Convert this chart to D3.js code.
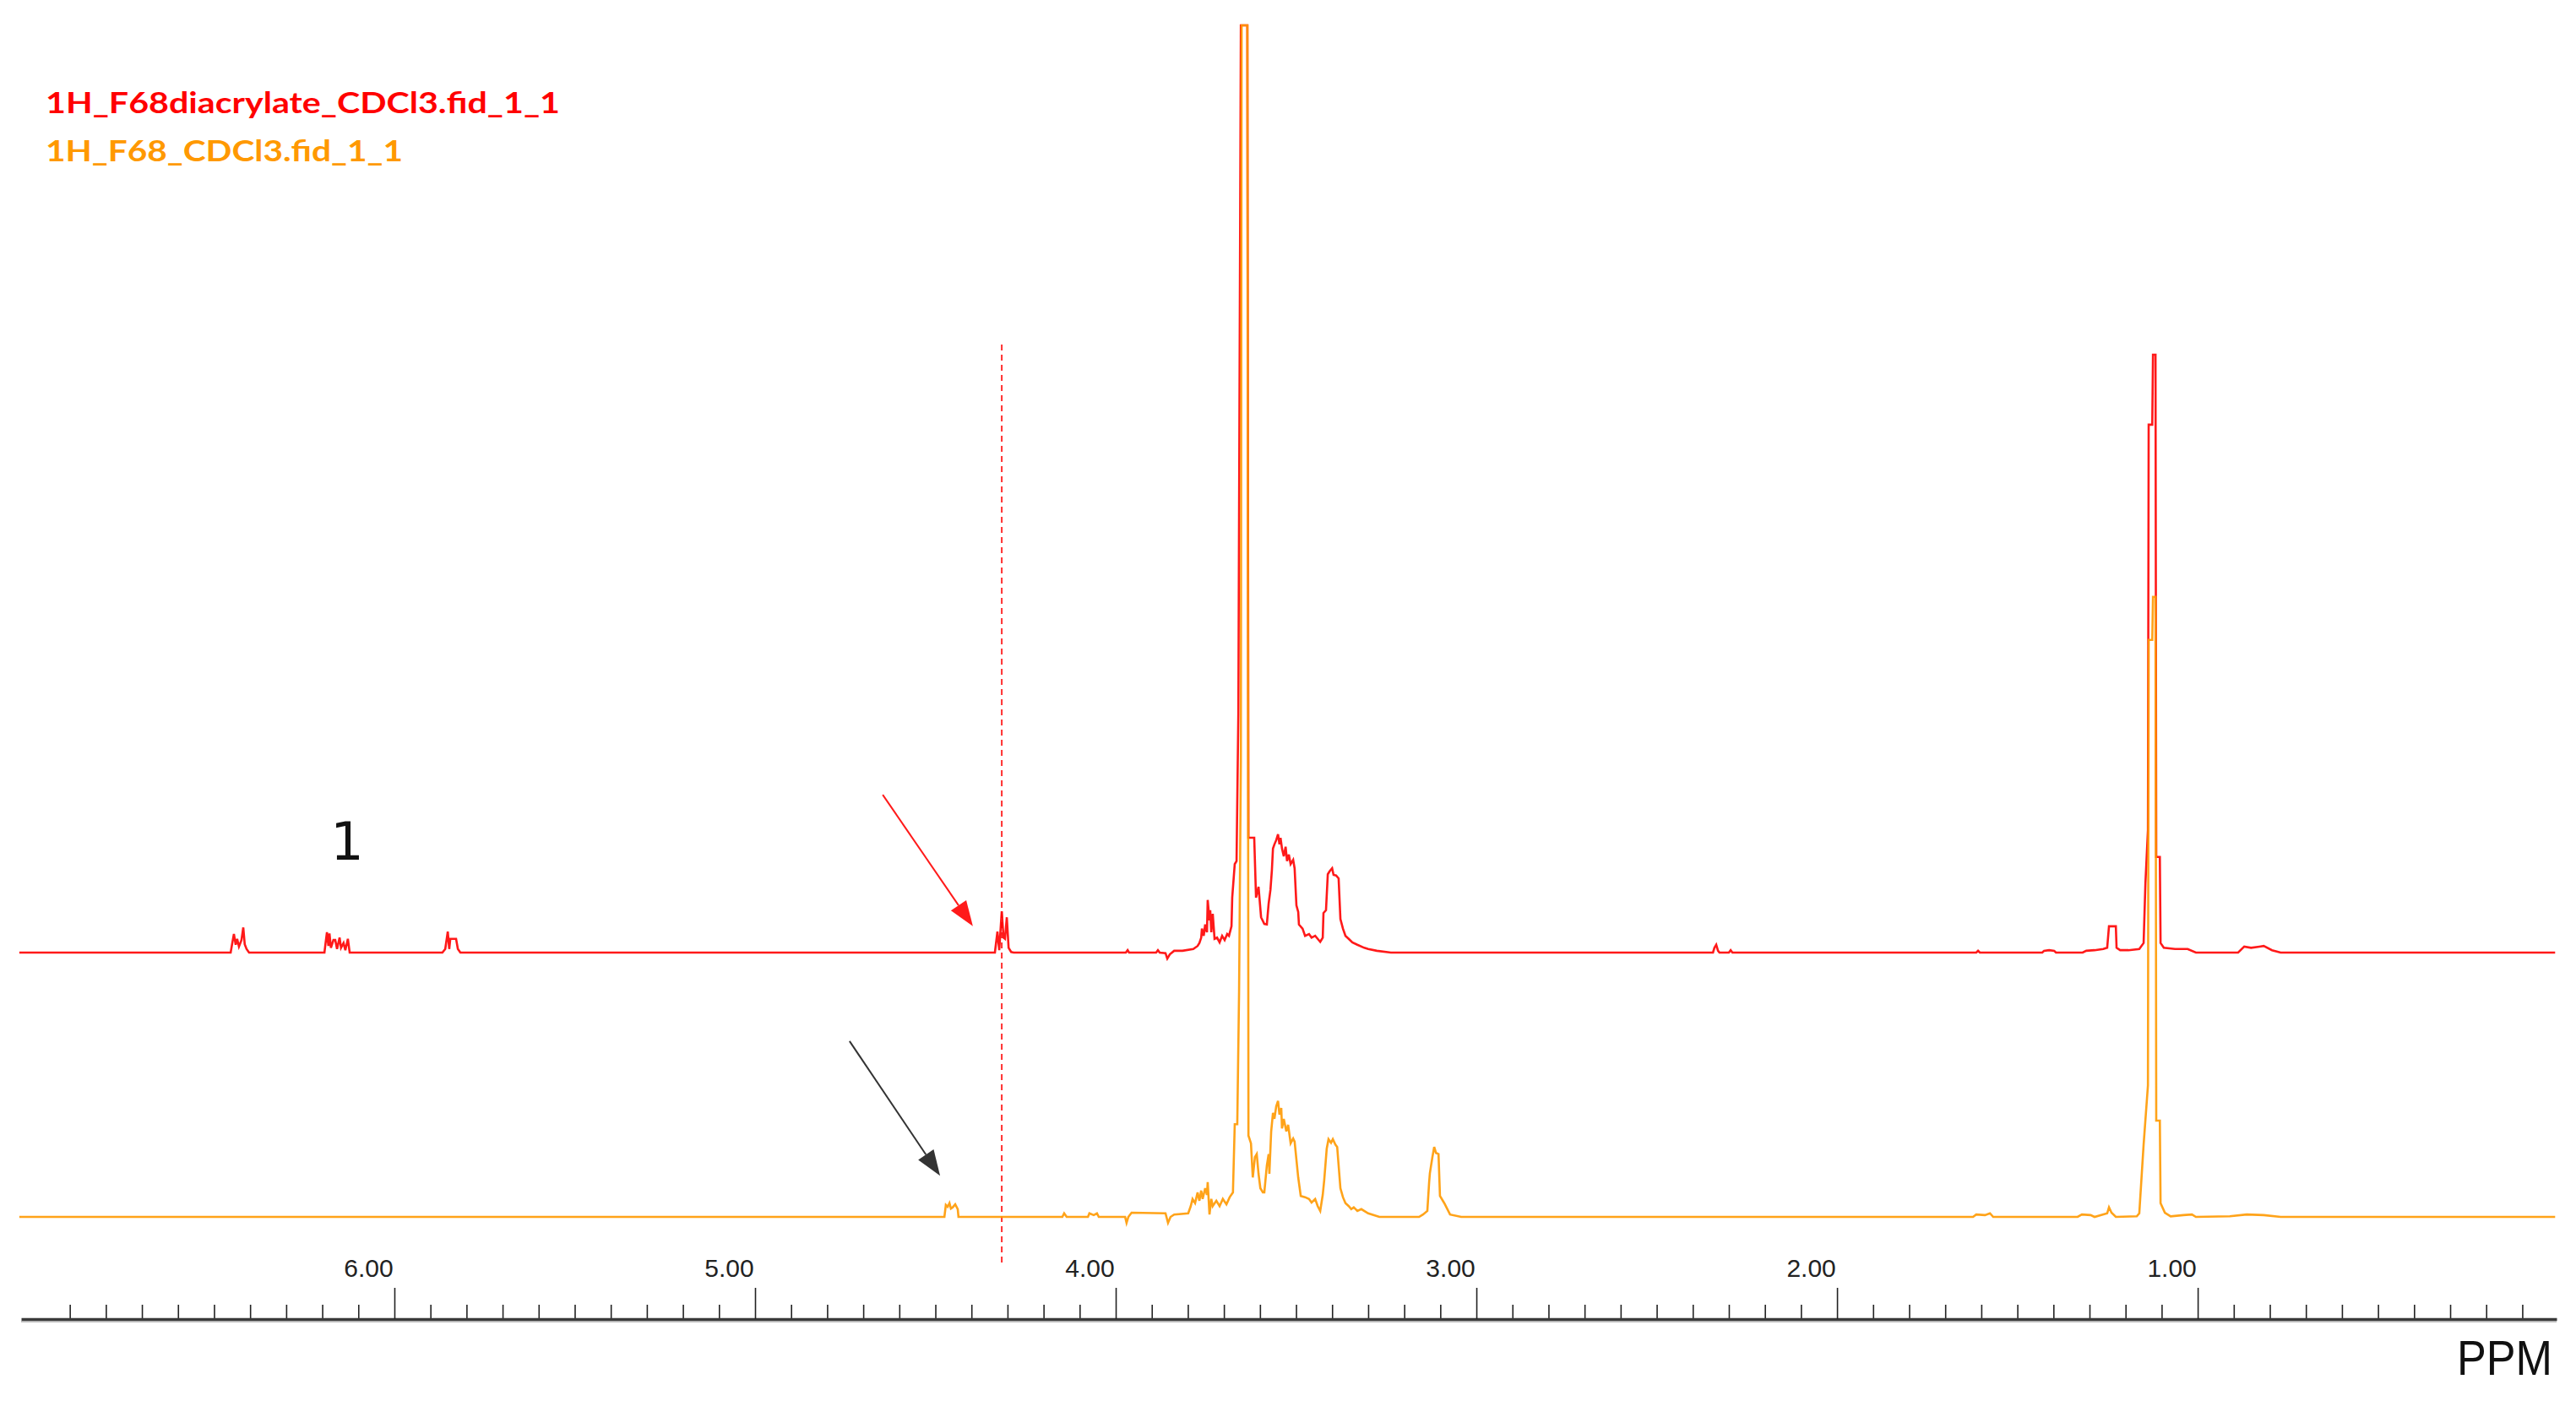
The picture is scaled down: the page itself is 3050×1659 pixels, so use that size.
<!DOCTYPE html>
<html><head><meta charset="utf-8">
<script src="https://cdn.jsdelivr.net/npm/d3@7"></script>
<style>body{margin:0;background:#fff}</style>
</head><body>
<svg id="c" width="3050" height="1659"></svg>
<script>
// ---------------- data ----------------
const seriesNames = ["1H_F68diacrylate_CDCl3.fid_1_1", "1H_F68_CDCl3.fid_1_1"];
const seriesColors = ["#ff0000", "#ff9900"];
const majorTicks = [6, 5, 4, 3, 2, 1];
const axisTitle = "PPM";

// F68 diacrylate spectrum (ppm, relative intensity; 100 = CH3 peak)
const redPpm = [7.040,6.461,6.454,6.450,6.445,6.440,6.436,6.431,6.424,6.419,6.415,6.410,6.403,
 6.194,6.190,6.187,6.183,6.180,6.176,6.169,6.164,6.159,6.152,6.148,6.141,6.136,6.129,6.124,
 5.867,5.859,5.852,5.848,5.845,5.829,5.824,5.817,
 4.335,4.328,4.323,4.316,4.311,4.307,4.302,4.297,4.290,4.283,
 3.972,3.967,3.963,3.888,3.883,3.878,3.862,3.857,3.850,3.838,3.815,3.785,3.773,3.768,3.763,3.761,
 3.756,3.752,3.747,3.745,3.740,3.738,3.735,3.731,3.726,3.719,3.712,3.705,3.698,3.691,3.686,3.679,
 3.677,3.670,3.665,3.660,3.653,3.635,3.632,3.628,3.616,3.611,3.604,3.597,3.588,3.581,3.576,3.571,
 3.567,3.564,3.560,3.555,3.550,3.546,3.543,3.539,3.534,3.529,3.525,3.520,3.515,3.508,3.504,3.499,
 3.494,3.492,3.482,3.475,3.464,3.457,3.447,3.440,3.433,3.426,3.424,3.417,3.412,3.407,3.400,3.396,
 3.389,3.382,3.377,3.370,3.363,3.354,3.344,3.330,3.311,3.300,3.276,3.237,
 2.344,2.340,2.335,2.330,2.326,2.300,2.295,2.290,1.614,1.609,1.604,1.431,1.426,1.412,1.398,1.393,
 1.319,1.309,1.286,1.262,1.251,1.246,1.227,1.225,1.215,1.192,1.162,1.150,1.145,1.138,1.136,1.126,
 1.124,1.117,1.115,1.105,1.103,1.094,1.063,1.028,1.005,0.888,0.871,0.852,0.829,0.817,0.794,0.770,0.009];
const redInt = [0,0,0,1.4,3.1,1.3,2.3,1.0,2.1,4.2,1.4,0.6,0,
 0,2.0,3.4,1.1,3.2,0.8,2.1,2.1,0.6,2.5,0.8,1.6,0.4,2.3,0,
 0,0.6,3.5,0.6,2.3,2.3,0.6,0,
 0,3.5,0.4,6.9,2.5,2.3,5.9,0.8,0.1,0,
 0,0.4,0,0,0.4,0,-0.1,-1.0,-0.3,0.3,0.3,0.6,1.1,1.6,2.5,4.0,
 2.8,4.7,3.4,8.8,5.4,7.1,3.4,6.5,2.3,2.5,1.7,2.8,2.1,3.1,2.8,4.4,
 9.2,14.8,15.3,40.0,200,200,19.2,19.2,19.2,9.2,11.0,5.9,4.8,4.7,8.2,10.5,
 13.8,17.4,18.1,18.8,19.8,18.1,19.2,17.4,16.1,17.7,15.3,16.4,14.8,15.5,14.1,7.9,
 6.8,4.7,4.0,2.8,3.1,2.5,2.8,2.3,1.8,2.5,6.6,7.1,13.1,13.6,14.1,13.0,
 12.9,12.4,5.6,4.0,2.8,2.3,1.7,1.3,0.8,0.6,0.3,0,
 0,0.8,1.3,0.3,0,0,0.4,0,0,0.3,0,0,0.3,0.4,0.3,0,
 0,0.3,0.4,0.6,0.8,4.4,4.4,0.8,0.4,0.4,0.6,1.6,11.6,20.5,88.3,88.3,
 100,100,16.0,16.0,1.6,0.8,0.6,0.6,0,0,1.0,0.8,1.0,1.1,0.4,0,0];

// F68 spectrum
const orangePpm = [7.040,4.475,4.471,4.466,4.461,4.457,4.452,4.445,4.438,4.436,
 4.148,4.143,4.136,4.077,4.073,4.061,4.052,4.047,3.974,3.970,3.965,3.956,3.862,3.855,3.848,3.838,
 3.799,3.792,3.787,3.780,3.773,3.768,3.763,3.759,3.752,3.747,3.745,3.740,3.735,3.731,3.721,3.712,
 3.703,3.693,3.684,3.675,3.670,3.663,3.658,3.653,3.651,3.635,3.632,3.625,3.620,3.614,3.609,3.604,
 3.599,3.592,3.588,3.581,3.576,3.574,3.569,3.564,3.560,3.555,3.550,3.546,3.541,3.539,3.534,3.527,
 3.522,3.515,3.508,3.504,3.494,3.487,3.475,3.464,3.457,3.447,3.440,3.433,3.426,3.422,3.415,3.410,
 3.403,3.398,3.391,3.386,3.377,3.370,3.363,3.354,3.347,3.340,3.330,3.319,3.300,3.269,
 3.159,3.148,3.136,3.131,3.129,3.122,3.117,3.112,3.105,3.101,3.089,3.073,3.042,
 1.623,1.614,1.590,1.576,1.567,1.333,1.321,1.297,1.286,1.251,1.246,1.239,1.227,1.169,1.162,1.150,
 1.138,1.136,1.126,1.124,1.117,1.115,1.105,1.103,1.091,1.075,1.040,1.016,1.005,0.911,0.864,0.817,0.770,0.009];
const orangeInt = [0,0,2.0,1.7,2.3,1.4,1.6,2.1,1.3,0,
 0,0.6,0,0,0.6,0.3,0.6,0,0,-1.0,0,0.7,0.6,-1.0,0,0.4,
 0.6,1.8,3.0,2.3,4.1,2.7,4.4,3.0,4.8,3.7,5.8,0.4,3.0,1.8,2.7,1.8,
 3.0,2.1,3.3,4.1,15.5,15.5,37.6,76.4,200,200,13.6,12.3,6.6,10.0,10.5,7.2,
 4.8,4.1,4.1,8.6,10.5,7.2,14.3,17.4,16.4,18.5,19.4,17.1,18.2,14.8,16.4,14.3,
 15.4,12.3,13.1,12.6,6.6,3.5,3.3,3.0,2.4,3.0,1.8,1.0,3.7,6.1,11.4,13.0,
 12.4,13.0,12.1,11.7,4.8,3.3,2.3,1.8,1.3,1.6,1.0,1.3,0.6,0,
 0,0.4,1.0,5.8,7.3,10.0,11.7,10.7,10.5,3.5,2.3,0.4,0,
 0,0.4,0.3,0.6,0,0,0.4,0.3,0,0.6,1.6,0.7,0,0.1,0.6,12.1,
 22.0,96.5,96.5,103.7,103.7,16.1,16.1,2.3,0.7,0.1,0.3,0.4,0,0.1,0.4,0.3,0,0];

// annotations
const markerPpm = 4.316;
const peakLabel = { text: "1", ppm: 6.131, int: 15.5 };
const arrowRed = { from: [4.646, 26.4], to: [4.396, 4.4] };
const arrowBlack = { from: [4.738, 29.4], to: [4.487, 6.9] };

// ---------------- drawing ----------------
const svg = d3.select("#c");
svg.append("rect").attr("width", 3050).attr("height", 1659).attr("fill", "#fff");

const x = d3.scaleLinear().domain([7.035, 0.005]).range([25, 3027]);
const yRed = d3.scaleLinear().domain([0, 100]).range([1128, 420]);
const yOrange = d3.scaleLinear().domain([0, 100]).range([1441, 733]);
const topClip = 30;

function trace(ppm, inten, yS, color) {
  const pts = ppm.map((p, i) => [p, inten[i]]);
  const line = d3.line().x(d => x(d[0])).y(d => Math.max(topClip, yS(d[1])));
  svg.append("path").attr("d", line(pts)).attr("fill", "none")
    .attr("stroke", color).attr("stroke-width", 2.6)
    .attr("stroke-linejoin", "miter").attr("stroke-opacity", 0.9);
}

// dashed marker line
svg.append("line").attr("x1", x(markerPpm)).attr("x2", x(markerPpm))
  .attr("y1", 408).attr("y2", 1498).attr("stroke", "#ff3030")
  .attr("stroke-width", 2).attr("stroke-dasharray", "7,5");

trace(redPpm, redInt, yRed, seriesColors[0]);
trace(orangePpm, orangeInt, yOrange, seriesColors[1]);

// arrows
function arrow(a, yS, color) {
  const x1 = x(a.from[0]), y1 = yS(a.from[1]);
  const x2 = x(a.to[0]), y2 = yS(a.to[1]);
  const ang = Math.atan2(y2 - y1, x2 - x1);
  const L = 30, W = 11;
  const bx = x2 - L * Math.cos(ang), by = y2 - L * Math.sin(ang);
  svg.append("line").attr("x1", x1).attr("y1", y1).attr("x2", bx).attr("y2", by)
    .attr("stroke", color).attr("stroke-width", 2);
  const px = -Math.sin(ang), py = Math.cos(ang);
  svg.append("polygon")
    .attr("points", [[x2, y2], [bx + W * px, by + W * py], [bx - W * px, by - W * py]].map(p => p.join(",")).join(" "))
    .attr("fill", color);
}
arrow(arrowRed, yRed, "#ff1a1a");
arrow(arrowBlack, yOrange, "#333333");

// peak label
svg.append("text").attr("x", x(peakLabel.ppm)).attr("y", yRed(peakLabel.int))
  .attr("text-anchor", "middle").attr("font-family", "DejaVu Sans")
  .attr("font-size", 62).attr("fill", "#111").text(peakLabel.text);

// legend
const legendY = [134, 191];
const legendLen = [609, 423];
seriesNames.forEach((n, i) => {
  svg.append("text").attr("x", 54).attr("y", legendY[i])
    .attr("font-family", "Lato").attr("font-weight", 700).attr("font-size", 35)
    .attr("fill", seriesColors[i]).attr("textLength", legendLen[i])
    .attr("lengthAdjust", "spacingAndGlyphs").text(n);
});

// axis
const axisY = 1562;
const minorTicks = d3.range(1, 70).filter(i => i % 10 !== 0).map(i => i / 10);
const gMinor = svg.append("g").attr("transform", `translate(0,${axisY})`)
  .call(d3.axisTop(x).tickValues(minorTicks).tickSize(17).tickSizeOuter(0).tickFormat(""));
gMinor.select(".domain").remove();
gMinor.selectAll(".tick line").attr("stroke", "#222").attr("stroke-width", 1.6);

const gMajor = svg.append("g").attr("transform", `translate(0,${axisY})`)
  .call(d3.axisTop(x).tickValues(majorTicks).tickSize(37).tickSizeOuter(0)
    .tickPadding(13).tickFormat(d3.format(".2f")));
gMajor.select(".domain").attr("stroke", "#3a3a3a").attr("stroke-width", 3.5);
gMajor.selectAll(".tick line").attr("stroke", "#222").attr("stroke-width", 1.6);
gMajor.selectAll(".tick text").attr("x", -31).attr("font-family", "Liberation Sans")
  .attr("font-size", 30).attr("fill", "#222");
svg.append("line").attr("x1", 25).attr("x2", 3027).attr("y1", axisY + 3).attr("y2", axisY + 3)
  .attr("stroke", "#aaa").attr("stroke-width", 1.5);

svg.append("text").attr("x", 3022).attr("y", 1628).attr("text-anchor", "end")
  .attr("font-family", "Liberation Sans").attr("font-size", 58).attr("fill", "#111")
  .attr("textLength", 113).attr("lengthAdjust", "spacingAndGlyphs").text(axisTitle);
</script>
</body></html>
